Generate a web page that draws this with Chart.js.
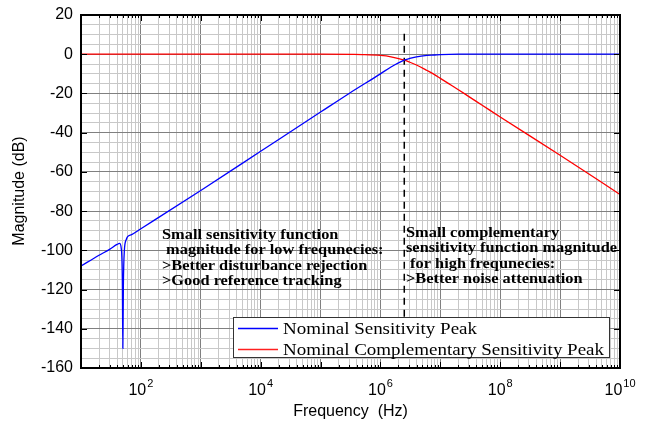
<!DOCTYPE html>
<html>
<head>
<meta charset="utf-8">
<script src="https://cdn.jsdelivr.net/npm/chart.js@4.4.0/dist/chart.umd.min.js"></script>
<style>
  html, body { margin: 0; padding: 0; background: #fff; }
  #wrap { width: 652px; height: 422px; }
</style>
</head>
<body>
<div id="wrap"><canvas id="chart"></canvas></div>
<script>
// sensitivity (blue)
const freqS = [10, 20, 30, 40, 44, 47, 49, 50, 51, 53, 57, 60, 70, 100, 1e3, 1e4, 1e5, 3e5, 1e6, 1.5e6, 2.5e6, 3e6, 4e6, 6e6, 8e6, 1e7, 2e7, 1e8, 1e10];
const magS  = [-108, -102.5, -99.5, -97, -96.5, -99, -115, -150, -118, -100, -94.5, -93, -92, -89, -69.5, -49.5, -29.5, -20, -10, -6.5, -3, -2.3, -1.3, -0.6, -0.4, -0.2, 0, 0, 0];

// complementary sensitivity (red)
const freqT = [10, 1e3, 1e5, 5e5, 1e6, 1.5e6, 2.5e6, 3e6, 4e6, 6e6, 8e6, 1e7, 1.5e7, 2e7, 3e7, 5e7, 1e8, 1e9, 1e10];
const magT  = [0, 0, 0, -0.2, -0.6, -1.3, -3, -3.9, -5.5, -8.3, -10.4, -12.3, -15.7, -18.1, -21.6, -26, -32, -51.5, -71.5];

// dashed marker at the crossover
const markerFreq = 2.5e6;
const markerMag = [10.5, -135];

const seriesNames = ['Nominal Sensitivity Peak', 'Nominal Complementary Sensitivity Peak'];
const xDecades = [1, 2, 3, 4, 5, 6, 7, 8, 9, 10];
const xLabelExp = [2, 4, 6, 8, 10];
const yTicks = [20, 0, -20, -40, -60, -80, -100, -120, -140, -160];

const note1 = ['Small sensitivity function', ' magnitude for low frequnecies:', '>Better disturbance rejection', '>Good reference tracking'];
const note2 = ['Small complementary', 'sensitivity function magnitude', ' for high frequnecies:', '>Better noise attenuation'];

const toPts = (xs, ys) => xs.map((x, i) => ({ x: x, y: ys[i] }));

const isDecade = v => Math.abs(Math.log10(v) - Math.round(Math.log10(v))) < 1e-9;

const xGridValues = [];
xDecades.forEach(e => {
  for (let m = 1; m <= 9; m++) {
    if (e === 10 && m > 1) break;
    xGridValues.push(m * Math.pow(10, e));
  }
});
const yGridValues = [];
for (let v = -160; v <= 20; v += 5) yGridValues.push(v);

const sans = '"Liberation Sans", Arial, sans-serif';
const serif = '"Liberation Serif", "Times New Roman", serif';

const decor = {
  id: 'decor',
  afterDraw(chart) {
    const ctx = chart.ctx;
    const a = chart.chartArea;
    const xs = chart.scales.x, ys = chart.scales.y;
    ctx.save();

    // annotations
    ctx.fillStyle = '#000';
    ctx.font = 'bold 14.5px ' + serif;
    const stretch = 211 / ctx.measureText(note2[1]).width;
    const drawNote = (lines, x, y0, dy) => {
      lines.forEach((t, i) => {
        ctx.save();
        ctx.translate(x, y0 + i * dy);
        ctx.scale(stretch, 1);
        ctx.textAlign = 'left';
        ctx.textBaseline = 'alphabetic';
        ctx.fillText(t, 0, 0);
        ctx.restore();
      });
    };
    drawNote(note1, 162, 238.5, 15.5);
    drawNote(note2, 406, 236.5, 15.5);

    // frame and inward ticks
    ctx.strokeStyle = '#000';
    ctx.lineWidth = 1;
    xGridValues.forEach(v => {
      const px = Math.round(xs.getPixelForValue(v)) + 0.5;
      const len = isDecade(v) ? 6 : 3;
      ctx.beginPath();
      ctx.moveTo(px, a.bottom); ctx.lineTo(px, a.bottom - len);
      ctx.moveTo(px, a.top); ctx.lineTo(px, a.top + len);
      ctx.stroke();
    });
    yTicks.forEach(v => {
      const py = Math.round(ys.getPixelForValue(v)) + 0.5;
      ctx.beginPath();
      ctx.moveTo(a.left, py); ctx.lineTo(a.left + 6, py);
      ctx.moveTo(a.right, py); ctx.lineTo(a.right - 6, py);
      ctx.stroke();
    });
    ctx.lineWidth = 2;
    ctx.strokeRect(a.left, a.top, a.right - a.left, a.bottom - a.top);

    // legend
    const lx = 233, ly = 317, lw = 376, lh = 40;
    ctx.fillStyle = '#fff';
    ctx.fillRect(lx, ly, lw, lh);
    ctx.lineWidth = 1;
    ctx.strokeStyle = '#333';
    ctx.strokeRect(lx + 0.5, ly + 0.5, lw, lh);
    ctx.font = '16px ' + serif;
    const lstretch = 321 / ctx.measureText(seriesNames[1]).width;
    const colors = ['#0000ff', '#ff2020'];
    seriesNames.forEach((name, i) => {
      const yy = 328.5 + i * 21;
      ctx.strokeStyle = colors[i];
      ctx.lineWidth = 1.5;
      ctx.beginPath();
      ctx.moveTo(238, yy); ctx.lineTo(278, yy);
      ctx.stroke();
      ctx.save();
      ctx.translate(283, yy + 5.5);
      ctx.scale(lstretch, 1);
      ctx.fillStyle = '#000';
      ctx.textAlign = 'left';
      ctx.fillText(name, 0, 0);
      ctx.restore();
    });

    // x tick labels with superscripts
    ctx.fillStyle = '#000';
    xLabelExp.forEach(e => {
      const px = xs.getPixelForValue(Math.pow(10, e));
      ctx.font = '16px ' + sans;
      const wb = ctx.measureText('10').width;
      ctx.font = '11px ' + sans;
      const we = ctx.measureText(String(e)).width;
      const x0 = px - (wb + we + 1) / 2;
      ctx.textAlign = 'left';
      ctx.font = '16px ' + sans;
      ctx.fillText('10', x0, 395);
      ctx.font = '11px ' + sans;
      ctx.fillText(String(e), x0 + wb + 1, 387);
    });

    // axis titles
    ctx.font = '16px ' + sans;
    ctx.textAlign = 'center';
    ctx.fillText('Frequency  (Hz)', (a.left + a.right) / 2, 416);
    ctx.save();
    ctx.translate(24, 191);
    ctx.rotate(-Math.PI / 2);
    ctx.fillText('Magnitude (dB)', 0, 0);
    ctx.restore();

    ctx.restore();
  }
};

new Chart(document.getElementById('chart'), {
  type: 'line',
  data: {
    datasets: [
      {
        label: seriesNames[0],
        data: toPts(freqS, magS),
        borderColor: '#0000ff',
        borderWidth: 1.3,
        pointRadius: 0,
        cubicInterpolationMode: 'monotone',
      },
      {
        label: seriesNames[1],
        data: toPts(freqT, magT),
        borderColor: '#ff0000',
        borderWidth: 1.3,
        pointRadius: 0,
        cubicInterpolationMode: 'monotone',
      },
      {
        label: 'marker',
        data: markerMag.map(m => ({ x: markerFreq, y: m })),
        borderColor: '#000',
        borderWidth: 1.5,
        borderDash: [7, 5],
        pointRadius: 0,
      },
    ],
  },
  options: {
    responsive: true,
    maintainAspectRatio: false,
    animation: false,
    layout: { padding: { left: 0, right: 32, top: 15, bottom: 0 } },
    plugins: {
      legend: { display: false },
      tooltip: { enabled: false },
    },
    scales: {
      x: {
        type: 'logarithmic',
        min: 10,
        max: 1e10,
        afterBuildTicks: s => { s.ticks = xGridValues.map(v => ({ value: v })); },
        afterFit: s => { s.height = 54; s.paddingLeft = 0; s.paddingRight = 0; },
        ticks: { display: false, autoSkip: false },
        border: { display: false },
        grid: {
          drawTicks: false,
          color: c => (c.tick && isDecade(c.tick.value)) ? '#808080' : '#c8c8c8',
          lineWidth: 1,
        },
      },
      y: {
        type: 'linear',
        min: -160,
        max: 20,
        afterBuildTicks: s => { s.ticks = yGridValues.map(v => ({ value: v })); },
        afterFit: s => { s.width = 81; s.paddingTop = 0; s.paddingBottom = 0; },
        ticks: {
          autoSkip: false,
          padding: 8,
          color: '#000',
          font: { family: sans, size: 16 },
          callback: v => (v % 20 === 0 ? String(v) : ''),
        },
        border: { display: false },
        grid: {
          drawTicks: false,
          color: c => (c.tick && c.tick.value % 20 === 0) ? '#808080' : '#c8c8c8',
          lineWidth: 1,
        },
      },
    },
  },
  plugins: [decor],
});
</script>
</body>
</html>
